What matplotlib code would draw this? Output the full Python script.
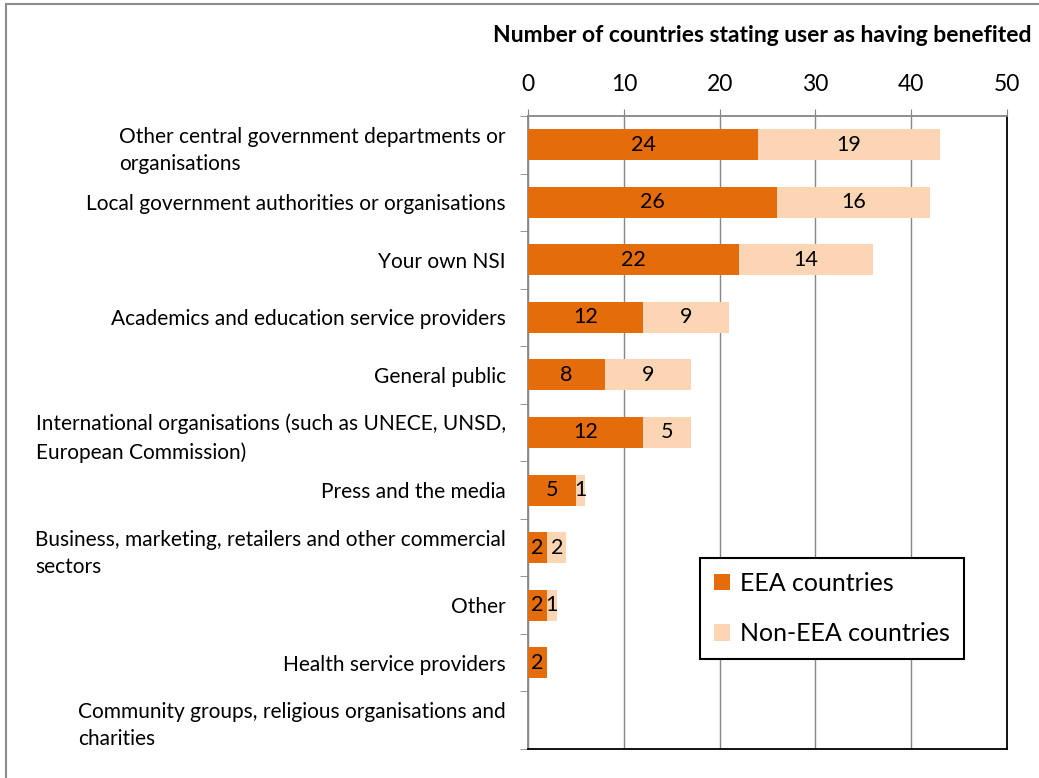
import matplotlib
matplotlib.use("Agg")
import matplotlib.pyplot as plt
from matplotlib.patches import Rectangle

plt.rcParams['font.family'] = ['Lato', 'DejaVu Sans']

categories = [
    "Other central government departments or\norganisations",
    "Local government authorities or organisations",
    "Your own NSI",
    "Academics and education service providers",
    "General public",
    "International organisations (such as UNECE, UNSD,\nEuropean Commission)",
    "Press and the media",
    "Business, marketing, retailers and other commercial\nsectors",
    "Other",
    "Health service providers",
    "Community groups, religious organisations and\ncharities",
]
eea = [24, 26, 22, 12, 8, 12, 5, 2, 2, 2, 0]
non_eea = [19, 16, 14, 9, 9, 5, 1, 2, 1, 0, 0]
xticks = [0, 10, 20, 30, 40, 50]

orange = "#E46C0A"
peach = "#FCD5B5"
gray = "#868686"

fig = plt.figure(figsize=(10.39, 7.78), dpi=100)
ax = fig.add_axes([528 / 1039, 1 - 749 / 778, 479 / 1039, 633 / 778])

# outer chart frame
fig.patches.append(Rectangle((6 / 1039, -0.1), 1.2, 1 - 4 / 778 + 0.1,
                             transform=fig.transFigure, fill=False,
                             edgecolor="#8c8c8c", lw=1.5, zorder=0))

y = list(range(len(categories)))
b1 = ax.barh(y, eea, height=0.54, color=orange, label="EEA countries", zorder=3)
b2 = ax.barh(y, non_eea, left=eea, height=0.54, color=peach,
             label="Non-EEA countries", zorder=3)
ax.bar_label(b1, labels=[str(v) if v else "" for v in eea],
             label_type="center", fontsize=15.5)
ax.bar_label(b2, labels=[str(v) if v else "" for v in non_eea],
             label_type="center", fontsize=15.5)

ax.set_xlim(0, 50)
ax.set_ylim(len(categories) - 0.5, -0.5)
ax.xaxis.tick_top()
ax.set_xticks(xticks)
ax.tick_params(axis="x", length=5, color=gray, labelsize=16.5, pad=10)
ax.grid(axis="x", color=gray, lw=1, zorder=0)

ax.set_yticks(y)
ax.set_yticklabels(categories, fontsize=15, linespacing=1.45)
for lab in ax.get_yticklabels():
    lab.set_multialignment("left")
ax.set_yticks([k - 0.5 for k in range(len(categories) + 1)], minor=True)
ax.tick_params(axis="y", which="major", length=0, pad=16)
ax.tick_params(axis="y", which="minor", length=6, color=gray)

ax.spines["top"].set_color(gray)
ax.spines["left"].set_color(gray)
ax.spines["right"].set_color("black")
ax.spines["bottom"].set_color("black")
for s in ax.spines.values():
    s.set_linewidth(1.3)

fig.text(762 / 1039, 1 - 35 / 778, "Number of countries stating user as having benefited",
         ha="center", va="center", fontsize=16.5, fontweight="bold")

leg = ax.legend(loc="upper left", bbox_to_anchor=(700 / 1039, 1 - 558 / 778),
                bbox_transform=fig.transFigure, fontsize=18, frameon=True,
                fancybox=False, framealpha=1, edgecolor="black",
                handlelength=0.65, handleheight=0.65, labelspacing=1.1,
                borderpad=0.55, handletextpad=0.4, borderaxespad=0)
leg.get_frame().set_linewidth(1.5)

fig.savefig("out.png", dpi=100)
